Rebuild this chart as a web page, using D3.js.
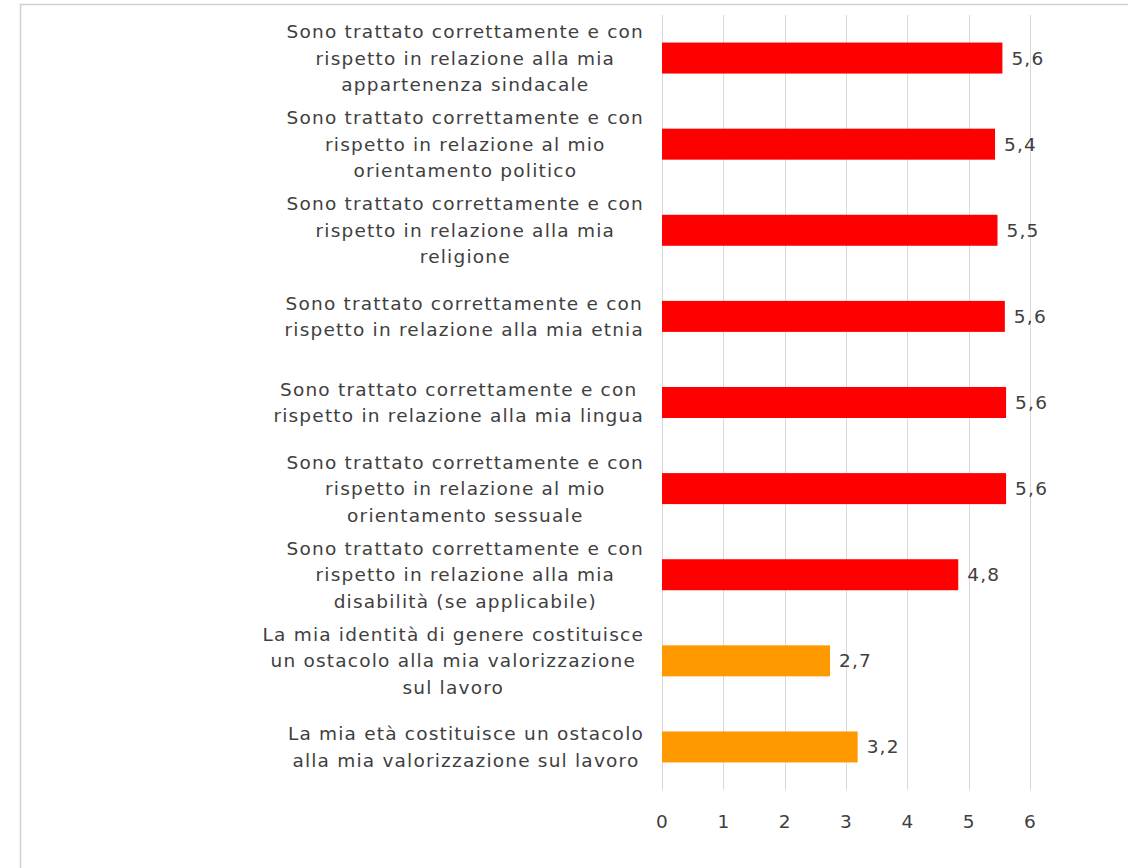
<!DOCTYPE html>
<html><head><meta charset="utf-8">
<script src="https://cdn.jsdelivr.net/npm/d3@7"></script>
<style>body{margin:0;background:#fff}svg{display:block}text{font-family:"DejaVu Sans",Verdana,sans-serif;fill:#404040;letter-spacing:1.2px}</style>
</head><body>
<svg id="c" width="1128" height="868"></svg>
<script>
const categories = [
  "Sono trattato correttamente e con\nrispetto in relazione alla mia\nappartenenza sindacale",
  "Sono trattato correttamente e con\nrispetto in relazione al mio\norientamento politico",
  "Sono trattato correttamente e con\nrispetto in relazione alla mia\nreligione",
  "Sono trattato correttamente e con\nrispetto in relazione alla mia etnia",
  "Sono trattato correttamente e con\nrispetto in relazione alla mia lingua",
  "Sono trattato correttamente e con\nrispetto in relazione al mio\norientamento sessuale",
  "Sono trattato correttamente e con\nrispetto in relazione alla mia\ndisabilità (se applicabile)",
  "La mia identità di genere costituisce\nun ostacolo alla mia valorizzazione\nsul lavoro",
  "La mia età costituisce un ostacolo\nalla mia valorizzazione sul lavoro"
];
const values = [5.55, 5.43, 5.47, 5.59, 5.61, 5.61, 4.83, 2.74, 3.19];
const valueLabels = ["5,6","5,4","5,5","5,6","5,6","5,6","4,8","2,7","3,2"];
const colors = ["#ff0000","#ff0000","#ff0000","#ff0000","#ff0000","#ff0000","#ff0000","#ff9900","#ff9900"];
const ticks = [0,1,2,3,4,5,6];

const svg = d3.select("#c");
svg.append("rect").attr("x",20.5).attr("y",4.5).attr("width",1200).attr("height",1000)
  .attr("fill","none").attr("stroke","#d0d0d0").attr("stroke-width",1.5);

const x = d3.scaleLinear().domain([0,6]).range([662,1030]);
const y = d3.scaleBand().domain(d3.range(categories.length)).range([15,790]).paddingInner(0.64).paddingOuter(0.32);

svg.append("g").selectAll("line").data(ticks).join("line")
  .attr("x1",d=>Math.round(x(d))+0.5).attr("x2",d=>Math.round(x(d))+0.5)
  .attr("y1",15).attr("y2",790).attr("stroke","#d9d9d9").attr("stroke-width",1);

svg.append("g").selectAll("rect").data(values).join("rect")
  .attr("x",x(0)).attr("y",(d,i)=>y(i)).attr("width",d=>x(d)-x(0)).attr("height",y.bandwidth())
  .attr("fill",(d,i)=>colors[i]);

svg.append("g").selectAll("text").data(values).join("text")
  .attr("x",d=>x(d)+9).attr("y",(d,i)=>y(i)+y.bandwidth()/2).attr("dy","0.35em")
  .attr("font-size",18.5).text((d,i)=>valueLabels[i]);

svg.append("g").selectAll("text").data(ticks).join("text")
  .attr("x",d=>x(d)+0.6).attr("y",822).attr("dy","0.35em").attr("text-anchor","middle")
  .attr("font-size",18.5).text(d=>d);

const lh = 26.5;
const lab = svg.append("g").selectAll("text").data(categories).join("text")
  .attr("text-anchor","middle").attr("font-size",18.5);
lab.each(function(d,i){
  const lines = d.split("\n");
  const cy = y(i)+y.bandwidth()/2;
  const t = d3.select(this);
  lines.forEach((ln,k)=>{
    t.append("tspan").attr("x",466).attr("y",cy+(k-(lines.length-1)/2)*lh).attr("dy","0.35em").text(ln);
  });
  const w = this.getBBox().width;
  const cx = Math.min(466, 644 - w/2);
  t.selectAll("tspan").attr("x",cx);
});
</script>
</body></html>
